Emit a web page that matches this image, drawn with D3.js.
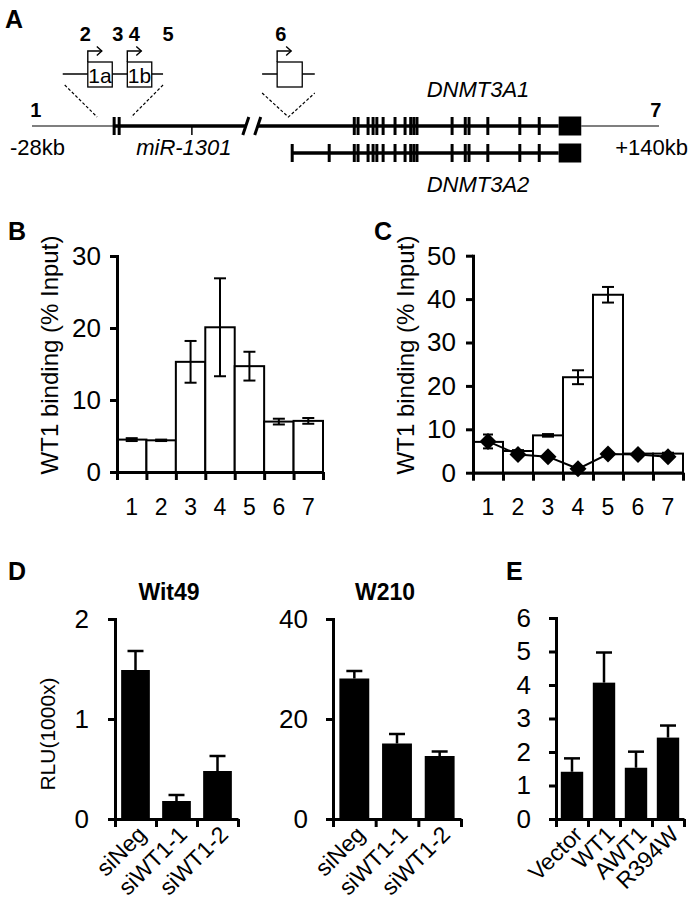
<!DOCTYPE html>
<html><head><meta charset="utf-8">
<script src="https://cdn.jsdelivr.net/npm/d3@7"></script>
<style>
body{margin:0;background:#fff;}
svg{display:block;}
</style></head><body>
<svg id="fig" width="692" height="900"></svg>
<script>
// ---------------- DATA ----------------
// Panel A: schematic positions along the DNMT3A locus (0 = -28kb, 100 = +140kb)
const siteLabels = ["1","2","3","4","5","6","7"];
const sitePos = [0.6, 8.5, 13.7, 16.3, 21.7, 39.7, 99.5];
const promoterExons = [13.1, 13.9];
const mirPos = [25.5];
const bodyExons = [51.4, 52.0, 53.6, 54.4, 55.0, 56.0, 57.9, 59.5, 60.4, 60.9, 61.4, 67.0, 69.1, 69.7, 72.7, 77.8, 80.9];
const a2ExtraExons = [41.5, 47.4];
const lastExon = [84.0, 87.6];
const locusSegments = [0, 12.9, 34.1, 36.0, 100]; // thin start, thick start, break, resume, end
const a2Start = 41.5;
const inset1Line = [4.9, 20.9];
const inset1Boxes = [[8.9, 12.8], [15.2, 19.1]];
const inset1Names = ["1a", "1b"];
const inset2Line = [36.7, 45.1];
const inset2Boxes = [[39.1, 43.1]];

// Panel B
const bSites = ["1","2","3","4","5","6","7"];
const bBinding = [4.5, 4.4, 15.3, 20.1, 14.7, 7.0, 7.1];
const bError = [0.2, 0.1, 2.9, 6.8, 2.0, 0.4, 0.4];
const bTicks = [0, 10, 20, 30];

// Panel C
const cSites = ["1","2","3","4","5","6","7"];
const cBinding = [7.1, 5.0, 8.6, 22.0, 41.0, 4.4, 4.4];
const cBindingErr = [0.3, 0.2, 0.3, 1.6, 1.8, 0.2, 0.2];
const cControl = [7.2, 4.2, 3.7, 0.9, 4.3, 4.2, 3.7];
const cControlErr = [1.6, 0.4, 0.3, 0.5, 0.3, 0.3, 0.3];
const cTicks = [0, 10, 20, 30, 40, 50];

// Panel D
const dCats = ["siNeg", "siWT1-1", "siWT1-2"];
const dWit49 = [1.49, 0.18, 0.48];
const dWit49Err = [0.19, 0.06, 0.15];
const dWit49Ticks = [0, 1, 2];
const dW210 = [28.1, 15.1, 12.6];
const dW210Err = [1.5, 1.9, 0.9];
const dW210Ticks = [0, 20, 40];

// Panel E
const eCats = ["Vector", "WT1", "AWT1", "R394W"];
const eRLU = [1.41, 4.07, 1.53, 2.43];
const eErr = [0.40, 0.90, 0.48, 0.36];
const eTicks = [0, 1, 2, 3, 4, 5, 6];

// ---------------- DRAWING ----------------
const FONT = '"Liberation Sans", Arial, Helvetica, sans-serif';
const svg = d3.select("#fig").attr("font-family", FONT);

function panelLetter(t, x, y) {
  svg.append("text").attr("x", x).attr("y", y).attr("font-size", 25)
    .attr("font-weight", "bold").text(t);
}

function styleAxis(g, fs) {
  g.attr("font-family", FONT);
  g.select(".domain").attr("stroke", "#000").attr("stroke-width", 3);
  g.selectAll(".tick line").attr("stroke", "#000").attr("stroke-width", 3);
  g.selectAll(".tick text").attr("font-size", fs).attr("fill", "#000");
}

function yAxis(x, y, ticks, pad, fs) {
  const g = svg.append("g").attr("transform", `translate(${x},0)`)
    .call(d3.axisLeft(y).tickValues(ticks).tickFormat(d3.format("d"))
      .tickSize(7).tickPadding(pad).tickSizeOuter(0));
  styleAxis(g, fs);
  g.select(".domain").attr("stroke-linecap", "square");
  return g;
}

function xAxis(x0, x1, n, yPos) {
  const s = d3.scaleLinear().domain([0, n]).range([x0, x1]);
  const g = svg.append("g").attr("transform", `translate(0,${yPos})`)
    .call(d3.axisBottom(s).tickValues(d3.range(n + 1)).tickSize(8).tickFormat("").tickSizeOuter(0));
  styleAxis(g, 10);
  return g;
}

function yLabel(text, x, y, fs) {
  svg.append("text").attr("transform", `translate(${x},${y}) rotate(-90)`)
    .attr("text-anchor", "middle").attr("font-size", fs).text(text);
}

// ---- Panel A ----
panelLetter("A", 5, 28);
const xA = d3.scaleLinear().domain([0, 100]).range([32, 659]);
const gA = svg.append("g");
const mainY = 126, line2Y = 153, insetY = 74;

gA.append("line").attr("x1", xA(locusSegments[0])).attr("x2", xA(locusSegments[1]))
  .attr("y1", mainY).attr("y2", mainY).attr("stroke", "#000").attr("stroke-width", 1.2);
gA.append("line").attr("x1", xA(lastExon[1])).attr("x2", xA(locusSegments[4]))
  .attr("y1", mainY).attr("y2", mainY).attr("stroke", "#000").attr("stroke-width", 1.2);
gA.append("line").attr("x1", xA(locusSegments[1])).attr("x2", xA(locusSegments[2]))
  .attr("y1", mainY).attr("y2", mainY).attr("stroke", "#000").attr("stroke-width", 3.5);
gA.append("line").attr("x1", xA(locusSegments[3])).attr("x2", xA(lastExon[0]))
  .attr("y1", mainY).attr("y2", mainY).attr("stroke", "#000").attr("stroke-width", 3.5);
gA.append("line").attr("x1", xA(a2Start)).attr("x2", xA(lastExon[0]))
  .attr("y1", line2Y).attr("y2", line2Y).attr("stroke", "#000").attr("stroke-width", 3.5);
[locusSegments[2], locusSegments[3]].forEach(p => {
  gA.append("line").attr("x1", xA(p) - 3).attr("x2", xA(p) + 3)
    .attr("y1", mainY + 9).attr("y2", mainY - 9).attr("stroke", "#000").attr("stroke-width", 3);
});
function exonTicks(arr, yc) {
  gA.selectAll(null).data(arr).join("line")
    .attr("x1", d => xA(d)).attr("x2", d => xA(d))
    .attr("y1", yc - 9).attr("y2", yc + 9).attr("stroke", "#000").attr("stroke-width", 3);
}
exonTicks(promoterExons, mainY);
exonTicks(bodyExons, mainY);
exonTicks(bodyExons, line2Y);
exonTicks(a2ExtraExons, line2Y);
[mainY, line2Y].forEach(yc => {
  gA.append("rect").attr("x", xA(lastExon[0])).attr("width", xA(lastExon[1]) - xA(lastExon[0]))
    .attr("y", yc - 9.5).attr("height", 19).attr("fill", "#000");
});
gA.selectAll(null).data(mirPos).join("line")
  .attr("x1", d => xA(d)).attr("x2", d => xA(d)).attr("y1", mainY).attr("y2", mainY + 9)
  .attr("stroke", "#000").attr("stroke-width", 1.5);

function inset(lineArr, boxes, names) {
  gA.append("line").attr("x1", xA(lineArr[0])).attr("x2", xA(lineArr[1]))
    .attr("y1", insetY).attr("y2", insetY).attr("stroke", "#000").attr("stroke-width", 1.3);
  boxes.forEach((b, i) => {
    const x0 = xA(b[0]), x1 = xA(b[1]);
    gA.append("rect").attr("x", x0).attr("y", 62).attr("width", x1 - x0).attr("height", 25)
      .attr("fill", "#fff").attr("stroke", "#000").attr("stroke-width", 1.3);
    if (names) gA.append("text").attr("x", (x0 + x1) / 2).attr("y", 83).attr("text-anchor", "middle")
      .attr("font-size", 21).text(names[i]);
    gA.append("path").attr("d", `M${x0},62 V51 H${x0 + 14}`).attr("fill", "none")
      .attr("stroke", "#000").attr("stroke-width", 1.4);
    gA.append("path").attr("d", `M${x0 + 9},46.5 L${x0 + 14},51 L${x0 + 9},55.5`).attr("fill", "none")
      .attr("stroke", "#000").attr("stroke-width", 1.4);
  });
}
inset(inset1Line, inset1Boxes, inset1Names);
inset(inset2Line, inset2Boxes, null);
const dash = "3,2";
gA.append("line").attr("x1", xA(inset1Line[0]) + 2).attr("y1", 85).attr("x2", xA(promoterExons[0]) - 17).attr("y2", 117)
  .attr("stroke", "#000").attr("stroke-width", 1.2).attr("stroke-dasharray", dash);
gA.append("line").attr("x1", xA(inset1Line[1])).attr("y1", 85).attr("x2", xA(promoterExons[1]) + 12).attr("y2", 117)
  .attr("stroke", "#000").attr("stroke-width", 1.2).attr("stroke-dasharray", dash);
gA.append("path").attr("d", `M${xA(inset2Line[0])},93 L${(xA(inset2Line[0]) + xA(inset2Line[1])) / 2},117 L${xA(inset2Line[1])},93`)
  .attr("fill", "none").attr("stroke", "#000").attr("stroke-width", 1.2).attr("stroke-dasharray", dash);

gA.selectAll(null).data(siteLabels).join("text")
  .attr("x", (d, i) => xA(sitePos[i]))
  .attr("y", (d, i) => (i === 0 || i === 6) ? 117 : 41)
  .attr("text-anchor", "middle").attr("font-size", 20).attr("font-weight", "bold").text(d => d);
gA.append("text").attr("x", 10).attr("y", 155).attr("font-size", 22).text("-28kb");
gA.append("text").attr("x", 688).attr("y", 155).attr("text-anchor", "end").attr("font-size", 22).text("+140kb");
gA.append("text").attr("x", xA(mirPos[0]) - 8).attr("y", 155).attr("text-anchor", "middle")
  .attr("font-size", 22).attr("font-style", "italic").text("miR-1301");
gA.append("text").attr("x", 478).attr("y", 97).attr("text-anchor", "middle")
  .attr("font-size", 22).attr("font-style", "italic").text("DNMT3A1");
gA.append("text").attr("x", 478).attr("y", 192).attr("text-anchor", "middle")
  .attr("font-size", 22).attr("font-style", "italic").text("DNMT3A2");

// ---- Panel B ----
panelLetter("B", 8, 240);
const bx = d3.scaleBand().domain(bSites).range([117, 323]).padding(0);
const by = d3.scaleLinear().domain([0, 30]).range([472, 256]);
svg.append("g").selectAll("rect").data(bBinding).join("rect")
  .attr("x", (d, i) => bx(bSites[i])).attr("width", bx.bandwidth())
  .attr("y", d => by(d)).attr("height", d => by(0) - by(d))
  .attr("fill", "#fff").attr("stroke", "#000").attr("stroke-width", 2);
function errBars(xs, vals, errs, y, cap, both, sw) {
  const g = svg.append("g").attr("stroke", "#000").attr("stroke-width", sw).attr("fill", "none");
  vals.forEach((v, i) => {
    const x = xs[i];
    const lo = both ? v - errs[i] : v;
    g.append("line").attr("x1", x).attr("x2", x).attr("y1", y(lo)).attr("y2", y(v + errs[i]));
    g.append("line").attr("x1", x - cap / 2).attr("x2", x + cap / 2).attr("y1", y(v + errs[i])).attr("y2", y(v + errs[i]));
    if (both) g.append("line").attr("x1", x - cap / 2).attr("x2", x + cap / 2).attr("y1", y(lo)).attr("y2", y(lo));
  });
}
errBars(bSites.map(s => bx(s) + bx.bandwidth() / 2), bBinding, bError, by, 12, true, 2);
yAxis(117, by, bTicks, 9, 26);
xAxis(117, 323, 7, 472);
svg.append("g").selectAll("text").data(bSites).join("text")
  .attr("x", d => bx(d) + bx.bandwidth() / 2).attr("y", 515).attr("text-anchor", "middle")
  .attr("font-size", 23).text(d => d);
yLabel("WT1 binding (% Input)", 58, 355, 24);

// ---- Panel C ----
panelLetter("C", 374, 240);
const cx = d3.scaleBand().domain(cSites).range([473, 683]).padding(0);
const cy = d3.scaleLinear().domain([0, 50]).range([472.7, 255.7]);
svg.append("g").selectAll("rect").data(cBinding).join("rect")
  .attr("x", (d, i) => cx(cSites[i])).attr("width", cx.bandwidth())
  .attr("y", d => cy(d)).attr("height", d => cy(0) - cy(d))
  .attr("fill", "#fff").attr("stroke", "#000").attr("stroke-width", 2);
const cCenters = cSites.map(s => cx(s) + cx.bandwidth() / 2);
errBars(cCenters, cBinding, cBindingErr, cy, 12, true, 2);
errBars(cCenters, cControl, cControlErr, cy, 10, true, 2);
svg.append("path").datum(cControl)
  .attr("d", d3.line().x((d, i) => cCenters[i]).y(d => cy(d)))
  .attr("fill", "none").attr("stroke", "#000").attr("stroke-width", 2);
svg.append("g").selectAll("path").data(cControl).join("path")
  .attr("transform", (d, i) => `translate(${cCenters[i]},${cy(d)}) rotate(45)`)
  .attr("d", d3.symbol(d3.symbolSquare, 145)).attr("fill", "#000");
yAxis(473, cy, cTicks, 10, 26);
xAxis(473, 683, 7, 472.7);
svg.append("g").selectAll("text").data(cSites).join("text")
  .attr("x", (d, i) => cCenters[i]).attr("y", 515).attr("text-anchor", "middle")
  .attr("font-size", 23).text(d => d);
yLabel("WT1 binding (% Input)", 414, 355, 24);

// ---- Panel D / E ----
function blackBarPanel(cats, vals, errs, ticks, x0, x1, yTop, ymax, pad, title, titleX) {
  const x = d3.scaleBand().domain(cats).range([x0, x1]).padding(0);
  const y = d3.scaleLinear().domain([0, ymax]).range([819, yTop]);
  const w = x.bandwidth() * 0.7;
  const centers = cats.map(c => x(c) + x.bandwidth() / 2);
  svg.append("g").selectAll("rect").data(vals).join("rect")
    .attr("x", (d, i) => centers[i] - w / 2).attr("width", w)
    .attr("y", d => y(d)).attr("height", d => y(0) - y(d)).attr("fill", "#000");
  errBars(centers, vals, errs, y, 16, false, 2.5);
  yAxis(x0, y, ticks, pad, 26);
  xAxis(x0, x1, cats.length, 819);
  svg.append("g").selectAll("text").data(cats).join("text")
    .attr("transform", (d, i) => `translate(${centers[i] + 12},836) rotate(-45)`)
    .attr("text-anchor", "end").attr("font-size", 23).text(d => d);
  if (title) svg.append("text").attr("x", titleX).attr("y", 600).attr("text-anchor", "middle")
    .attr("font-size", 23).attr("font-weight", "bold").text(title);
}
panelLetter("D", 8, 580);
blackBarPanel(dCats, dWit49, dWit49Err, dWit49Ticks, 115, 238, 619, 2, 19, "Wit49", 169);
yLabel("RLU(1000x)", 55, 734, 21);
blackBarPanel(dCats, dW210, dW210Err, dW210Ticks, 333, 461, 619, 40, 18, "W210", 385);
panelLetter("E", 506, 580);
blackBarPanel(eCats, eRLU, eErr, eTicks, 556, 684, 618, 6, 18, null, 0);
</script>
</body></html>
